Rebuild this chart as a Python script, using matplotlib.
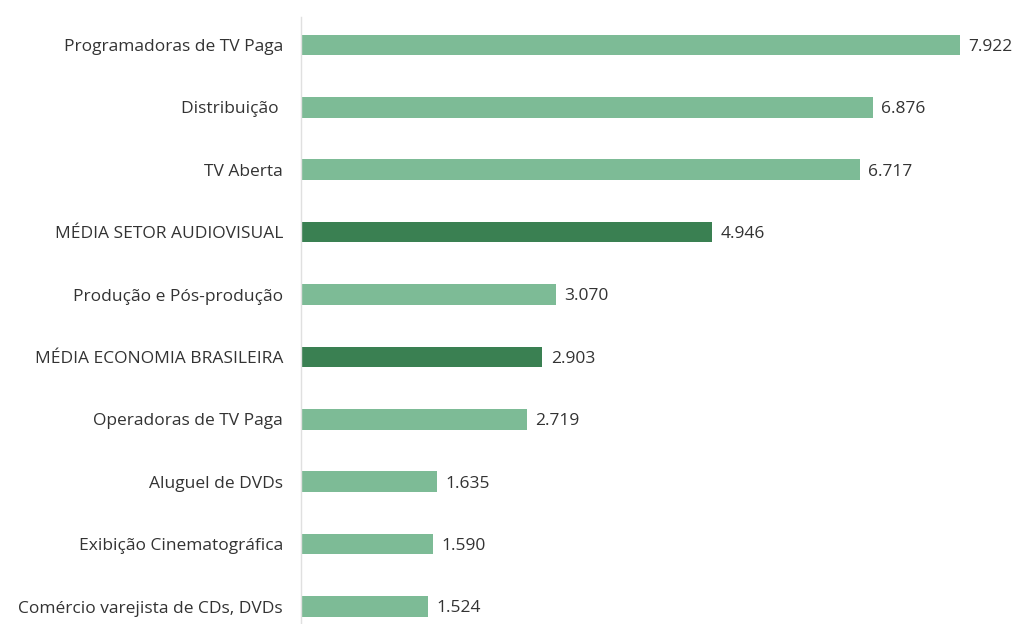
import matplotlib.pyplot as plt

# data
categorias = ['Programadoras de TV Paga', 'Distribuição ', 'TV Aberta',
              'MÉDIA SETOR AUDIOVISUAL', 'Produção e Pós-produção',
              'MÉDIA ECONOMIA BRASILEIRA', 'Operadoras de TV Paga',
              'Aluguel de DVDs', 'Exibição Cinematográfica',
              'Comércio varejista de CDs, DVDs']
valores = [7.922, 6.876, 6.717, 4.946, 3.070, 2.903, 2.719, 1.635, 1.590, 1.524]
rotulos = ['7.922', '6.876', '6.717', '4.946', '3.070', '2.903', '2.719',
           '1.635', '1.590', '1.524']

claro = '#7dbb96'
escuro = '#3a8052'
cores = [escuro if c.startswith('MÉDIA') else claro for c in categorias]

plt.rcParams['font.family'] = ['Open Sans', 'DejaVu Sans']

fig = plt.figure(figsize=(10.17, 6.24), dpi=100)
ax = fig.add_axes([0.296, 0.0, 0.695, 0.973])

y = list(range(len(categorias)))
ax.barh(y, valores, height=0.33, color=cores, zorder=2)
for yi, v, r in zip(y, valores, rotulos):
    ax.text(v + 0.1, yi + 0.03, r, va='center', ha='left', fontsize=12.5, color='#333333')

ax.set_yticks(y)
ax.set_yticklabels(categorias, fontsize=12.5, color='#333333')
ax.tick_params(axis='y', length=0, pad=13)
ax.set_xticks([])
ax.set_xlim(0, 8.5)
ax.set_ylim(9.28, -0.45)
for s in ['top', 'right', 'bottom']:
    ax.spines[s].set_visible(False)
ax.spines['left'].set_color('#e0e0e0')
ax.spines['left'].set_linewidth(1)

fig.savefig('out.png', dpi=100)
